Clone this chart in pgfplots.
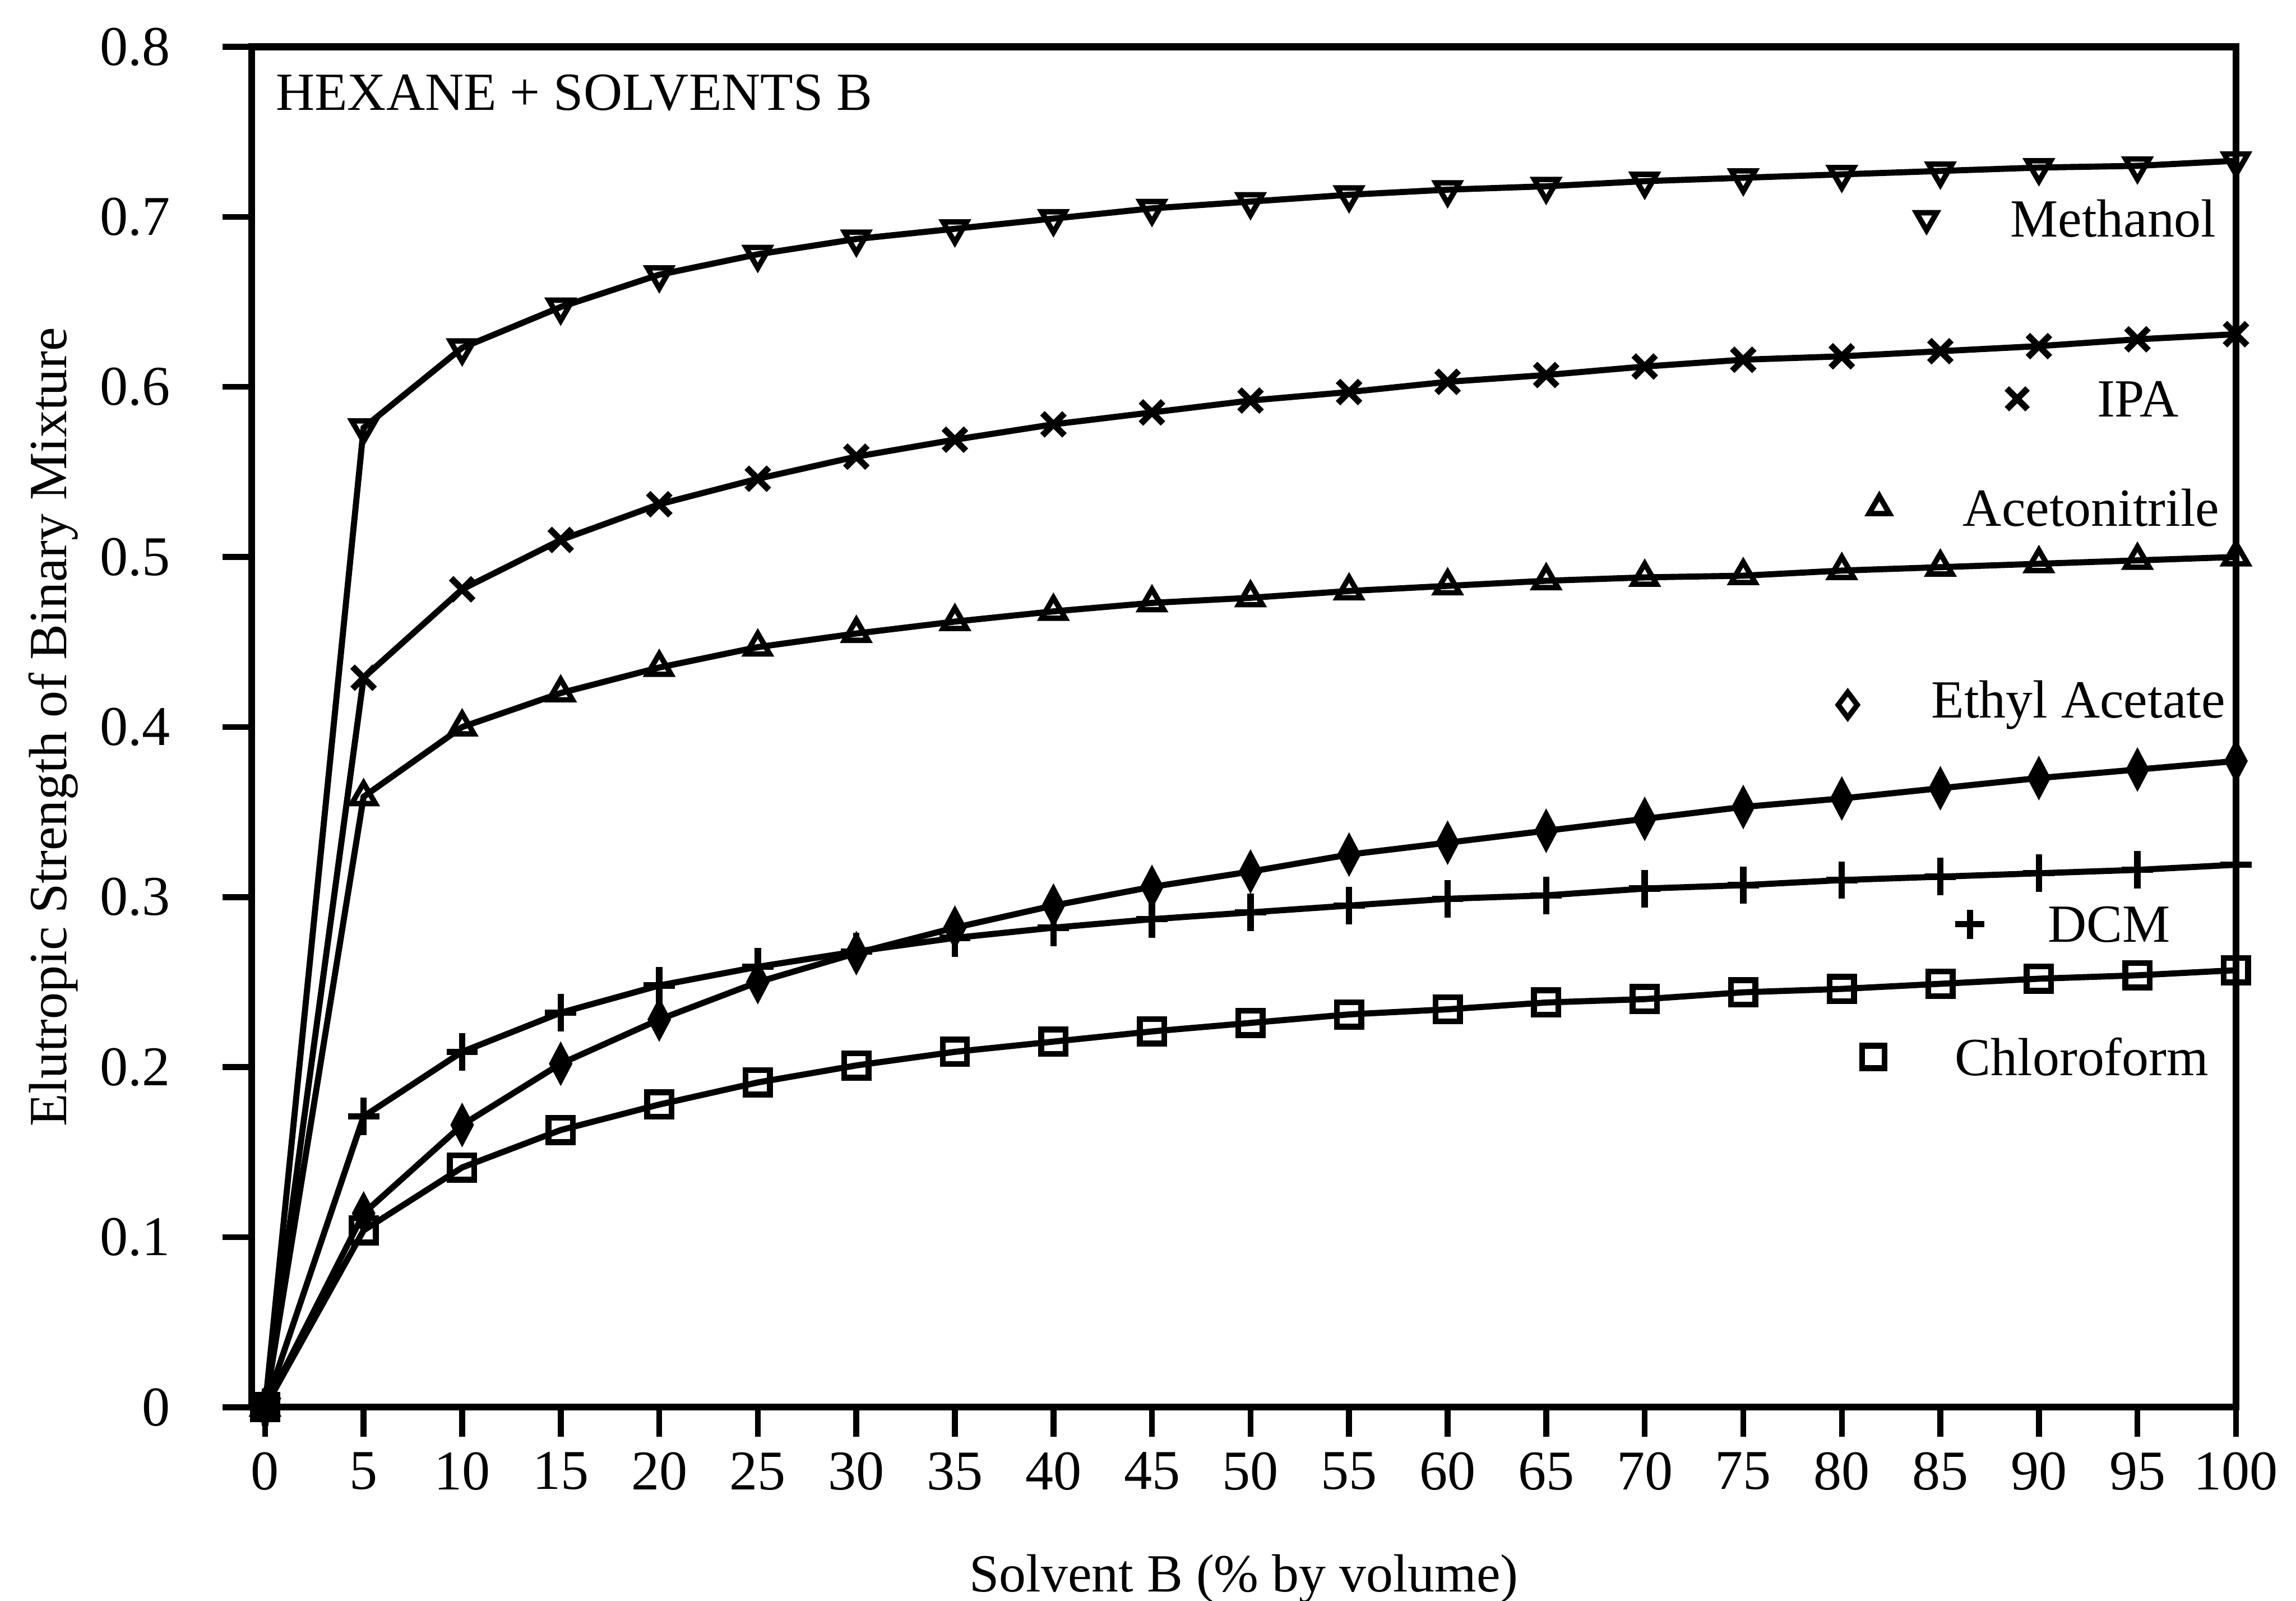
\documentclass[border=0pt]{standalone}
\usepackage{pgfplots}
\pgfplotsset{compat=1.18}
\usepackage{fontspec}
\setmainfont{Liberation Serif}
\begin{document}
\begin{tikzpicture}
\begin{axis}[
  scale only axis,
  width=406.5pt, height=278.7pt,
  xmin=-0.67, xmax=100, ymin=0, ymax=0.8,
  xtick={0,5,...,100},
  ytick={0,0.1,...,0.8},
  yticklabels={0,0.1,0.2,0.3,0.4,0.5,0.6,0.7,0.8},
  tick align=outside,
  xtick pos=lower, ytick pos=left,
  major tick length=6pt,
  axis line style={line width=1.4pt},
  major tick style={line width=1.2pt, black},
  /pgf/number format/assume math mode=true,
  ticklabel style={font=\fontsize{11.5}{13}\selectfont},
  yticklabel style={xshift=-7.2pt},
  xticklabel style={yshift=0.3pt},
  xlabel={Solvent B (\% by volume)},
  ylabel={Elutropic Strength of Binary Mixture},
  label style={font=\fontsize{11}{13}\selectfont},
  xlabel style={yshift=-6.3pt},
  ylabel style={yshift=-2.4pt},
  every axis plot/.append style={line width=1.25pt, black, mark size=2.6pt},
  clip=false,
]
% Methanol
\addplot[mark=triangle, mark options={rotate=180, solid, line width=1.1pt}, mark size=2.8pt] coordinates {
(0,0) (5,0.576) (10,0.623) (15,0.647) (20,0.666) (25,0.678) (30,0.687) (35,0.693) (40,0.699) (45,0.705) (50,0.709) (55,0.713) (60,0.716) (65,0.718) (70,0.721) (75,0.723) (80,0.725) (85,0.727) (90,0.729) (95,0.730) (100,0.733)};
% IPA
\addplot[mark=x, mark options={line width=1.3pt}, mark size=3.2pt] coordinates {
(0,0) (5,0.429) (10,0.481) (15,0.510) (20,0.531) (25,0.546) (30,0.559) (35,0.569) (40,0.578) (45,0.585) (50,0.592) (55,0.597) (60,0.603) (65,0.607) (70,0.612) (75,0.616) (80,0.618) (85,0.621) (90,0.624) (95,0.628) (100,0.631)};
% Acetonitrile
\addplot[mark=triangle, mark options={line width=1.1pt}, mark size=2.8pt] coordinates {
(0,0) (5,0.359) (10,0.400) (15,0.420) (20,0.435) (25,0.447) (30,0.455) (35,0.462) (40,0.468) (45,0.473) (50,0.476) (55,0.480) (60,0.483) (65,0.486) (70,0.488) (75,0.489) (80,0.492) (85,0.494) (90,0.496) (95,0.498) (100,0.500)};
% Ethyl acetate
\addplot[mark=diamond*, mark options={fill=black, yscale=1.35, xscale=0.95}, mark size=2.4pt] coordinates {
(0,0) (5,0.114) (10,0.166) (15,0.202) (20,0.228) (25,0.250) (30,0.267) (35,0.282) (40,0.295) (45,0.306) (50,0.315) (55,0.325) (60,0.332) (65,0.339) (70,0.346) (75,0.353) (80,0.358) (85,0.364) (90,0.370) (95,0.375) (100,0.380)};
% DCM
\addplot[mark=+, mark options={line width=1.3pt, yscale=1.2}, mark size=3.2pt] coordinates {
(0,0) (5,0.171) (10,0.209) (15,0.232) (20,0.248) (25,0.259) (30,0.268) (35,0.276) (40,0.282) (45,0.287) (50,0.291) (55,0.295) (60,0.299) (65,0.301) (70,0.305) (75,0.307) (80,0.310) (85,0.312) (90,0.314) (95,0.316) (100,0.319)};
% Chloroform
\addplot[mark=square, mark options={line width=1.2pt}, mark size=2.5pt] coordinates {
(0,0) (5,0.104) (10,0.141) (15,0.163) (20,0.178) (25,0.191) (30,0.201) (35,0.209) (40,0.215) (45,0.221) (50,0.226) (55,0.231) (60,0.234) (65,0.238) (70,0.240) (75,0.244) (80,0.246) (85,0.249) (90,0.252) (95,0.254) (100,0.257)};
% legend markers
\addplot[only marks, mark=triangle, mark options={rotate=180, line width=1.1pt}, mark size=2.4pt] coordinates {(84.3,0.699)};
\addplot[only marks, mark=x, mark options={line width=1.3pt}, mark size=3pt] coordinates {(88.9,0.593)};
\addplot[only marks, mark=triangle, mark options={line width=1.1pt}, mark size=2.4pt] coordinates {(81.9,0.529)};
\addplot[only marks, mark=diamond, mark options={line width=1.1pt}, mark size=2.6pt] coordinates {(80.3,0.413)};
\addplot[only marks, mark=+, mark options={line width=1.3pt}, mark size=3pt] coordinates {(86.5,0.284)};
\addplot[only marks, mark=square, mark options={line width=1.2pt}, mark size=2.3pt] coordinates {(81.6,0.206)};
\begin{scope}[every node/.style={font=\fontsize{11}{13}\selectfont, anchor=west, inner sep=0pt}]
\node at (axis cs:88.5,0.699) {Methanol};
\node at (axis cs:92.9,0.593) {IPA};
\node at (axis cs:86.1,0.529) {Acetonitrile};
\node at (axis cs:84.5,0.413) {Ethyl Acetate};
\node at (axis cs:90.4,0.284) {DCM};
\node at (axis cs:85.7,0.206) {Chloroform};
\node at (axis cs:0.5,0.773) {HEXANE + SOLVENTS B};
\end{scope}
\end{axis}
\pgfresetboundingbox
\path ([xshift=-51.6pt, yshift=-39.6pt]current axis.south west) rectangle ([xshift=12.3pt, yshift=9.6pt]current axis.north east);
\end{tikzpicture}
\end{document}
